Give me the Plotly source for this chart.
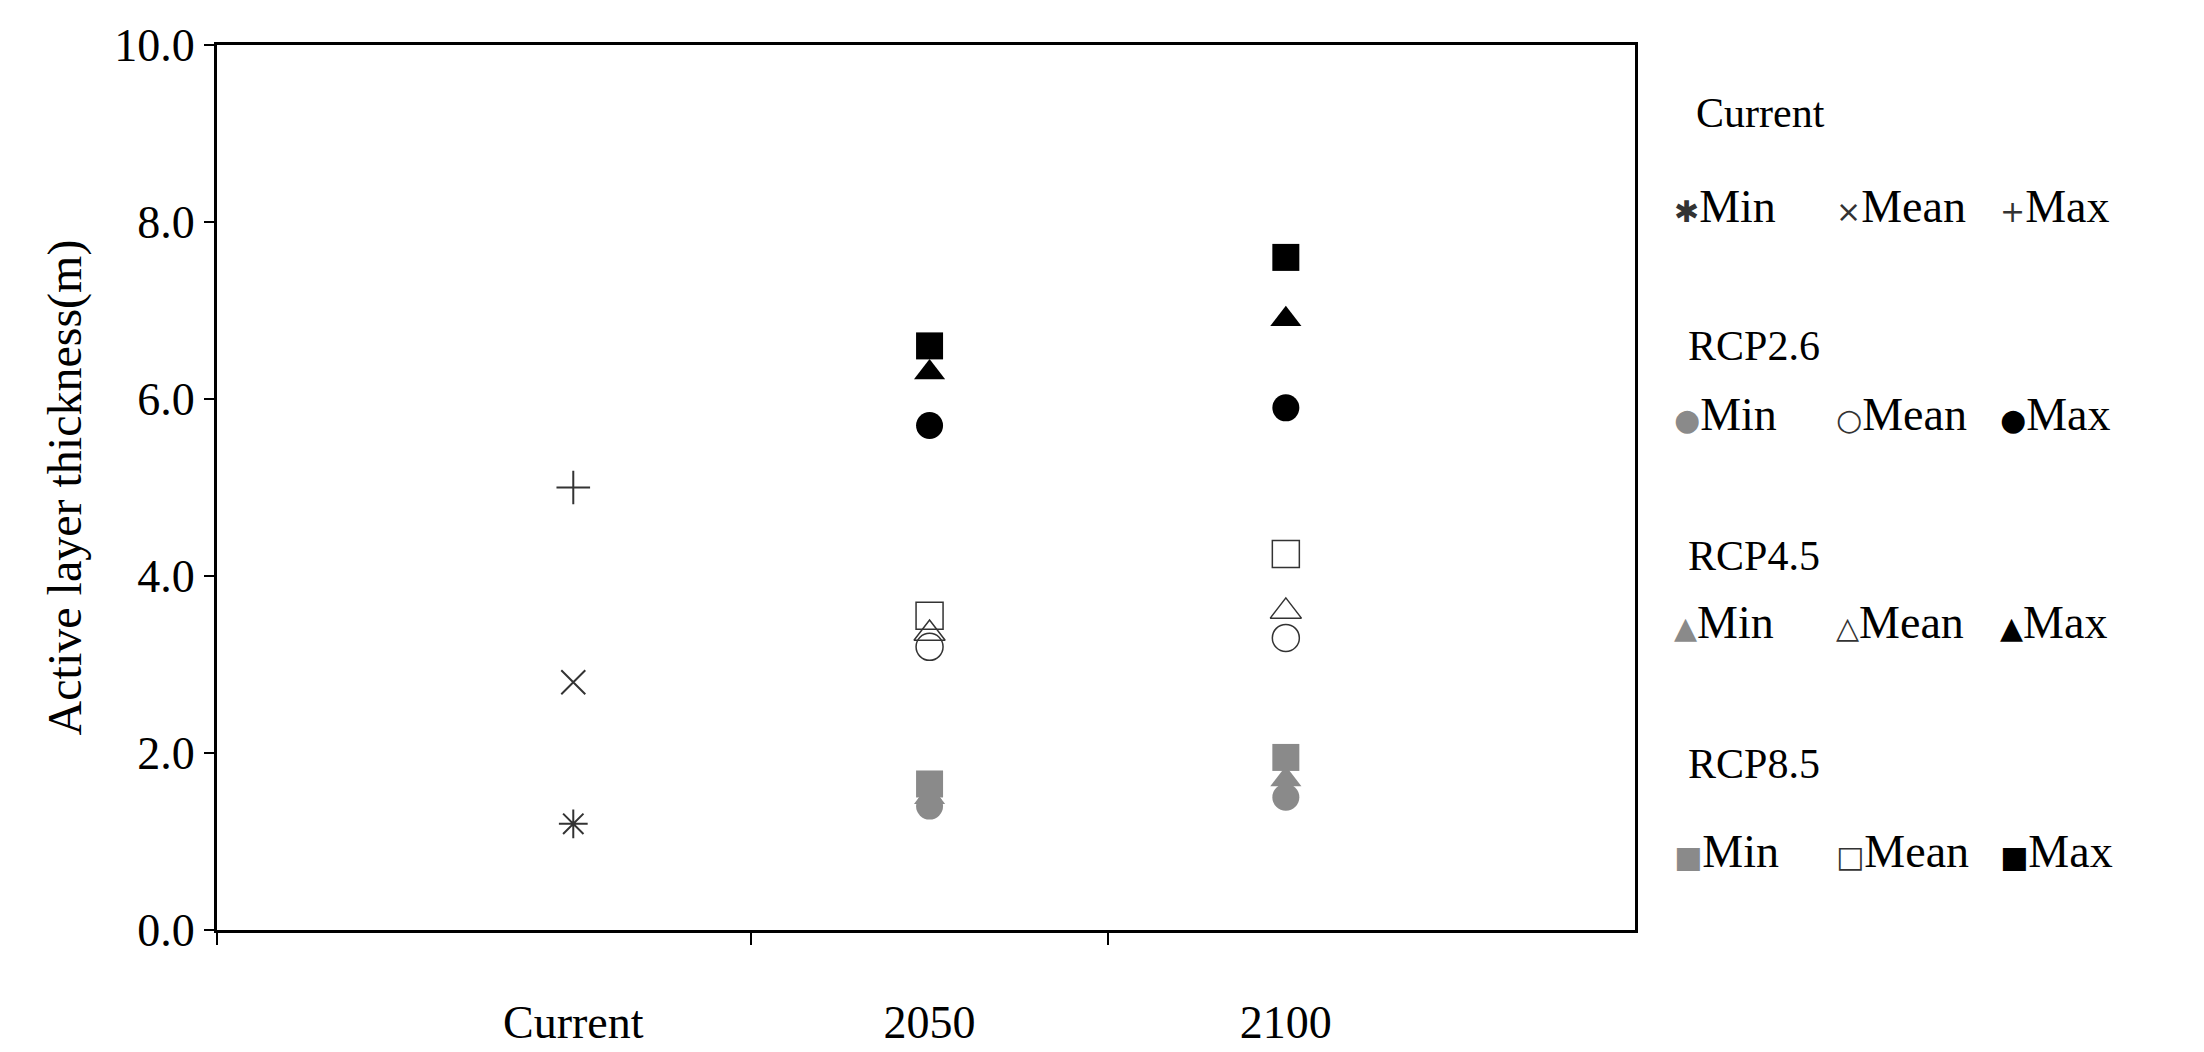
import plotly.graph_objects as go

periods = ["Current", "2050", "2100"]
period_pos = [1, 2, 3]
divider_ticks = [0, 1.5, 2.5]

current_vals = {"Min": 1.2, "Mean": 2.8, "Max": 5.0}
rcp26 = {"Min": [1.4, 1.5], "Mean": [3.2, 3.3], "Max": [5.7, 5.9]}
rcp45 = {"Min": [1.5, 1.7], "Mean": [3.35, 3.6], "Max": [6.3, 6.9]}
rcp85 = {"Min": [1.65, 1.95], "Mean": [3.55, 4.25], "Max": [6.6, 7.6]}

GREY = "#8a8a8a"
FONT = "Liberation Serif"

fig = go.Figure()

cur_sym = {"Min": "asterisk-open", "Mean": "x-thin-open", "Max": "cross-thin-open"}
for k, v in current_vals.items():
    fig.add_trace(go.Scatter(
        x=[period_pos[0]], y=[v], mode="markers",
        marker=dict(symbol=cur_sym[k], size=24, color="#333", line=dict(color="#333", width=2)),
    ))

def add_scen(vals, base):
    # Min grey filled, Mean open, Max black filled
    fig.add_trace(go.Scatter(x=period_pos[1:], y=vals["Min"], mode="markers",
                             marker=dict(symbol=base, size=27, color=GREY)))
    fig.add_trace(go.Scatter(x=period_pos[1:], y=vals["Mean"], mode="markers",
                             marker=dict(symbol=base + "-open", size=27, color="#333",
                                         line=dict(width=1.5))))
    fig.add_trace(go.Scatter(x=period_pos[1:], y=vals["Max"], mode="markers",
                             marker=dict(symbol=base, size=27, color="black")))

add_scen(rcp26, "circle")
add_scen(rcp45, "triangle-up")
add_scen(rcp85, "square")

# invisible helper axis carrying the divider ticks
fig.add_trace(go.Scatter(x=[0], y=[0], xaxis="x2", mode="markers",
                         marker=dict(opacity=0), hoverinfo="skip"))

# custom legend as annotations (pixel positions, converted below)
legend_rows = [
    ("Current", [("✱", "#333"), ("×", "#333"), ("+", "#333")], 80, 176),
    ("RCP2.6", [("●", GREY), ("○", "#333"), ("●", "black")], 325, 423),
    ("RCP4.5", [("▲", GREY), ("△", "#333"), ("▲", "black")], 571, 670),
    ("RCP8.5", [("■", GREY), ("□", "#333"), ("■", "black")], 816, 910),
]
W, H = 2204, 1052
L, R, T, B = 209, 577, 35, 88
pw, ph = W - L - R, H - T - B
col_x = [1664, 1826, 1990]
labels = ["Min", "Mean", "Max"]
for title, syms, hy, ry in legend_rows:
    fig.add_annotation(x=((1686 if title == "Current" else 1678) - L) / pw,
                       y=1 - (hy - T) / ph, xref="paper", yref="paper",
                       text=title, showarrow=False, xanchor="left",
                       font=dict(family=FONT, size=42, color="black"))
    for (s, c), cx, lab in zip(syms, col_x, labels):
        fig.add_annotation(x=(cx - L) / pw, y=1 - (ry - T) / ph, xref="paper", yref="paper",
                           text=f"<span style='font-family:DejaVu Sans;font-size:30px;color:{c}'>{s}</span>{lab}",
                           showarrow=False, xanchor="left",
                           font=dict(family=FONT, size=46, color="black"))

fig.update_layout(
    width=W, height=H, showlegend=False,
    plot_bgcolor="white", paper_bgcolor="white",
    margin=dict(l=L, r=R, t=T, b=B),
    font=dict(family=FONT, size=46, color="black"),
    xaxis=dict(range=[0, 3.98], tickvals=period_pos, ticktext=periods,
               ticks="", showgrid=False, showline=True, linecolor="black", linewidth=3,
               mirror=True, ticklabelstandoff=50),
    xaxis2=dict(range=[0, 3.98], overlaying="x", side="bottom", tickvals=divider_ticks,
                ticktext=["", "", ""], ticks="outside", ticklen=14, tickcolor="black",
                tickwidth=2, showgrid=False, showline=False, zeroline=False),
    yaxis=dict(range=[0, 10], dtick=2, tickformat=".1f", ticks="outside",
               ticklen=10, tickcolor="black", tickwidth=2, showgrid=False, zeroline=False,
               showline=True, linecolor="black", linewidth=3, mirror=True,
               title=dict(text="Active layer thickness(m)", font=dict(size=48),
                          standoff=18)),
)

fig.write_html("out.html")
